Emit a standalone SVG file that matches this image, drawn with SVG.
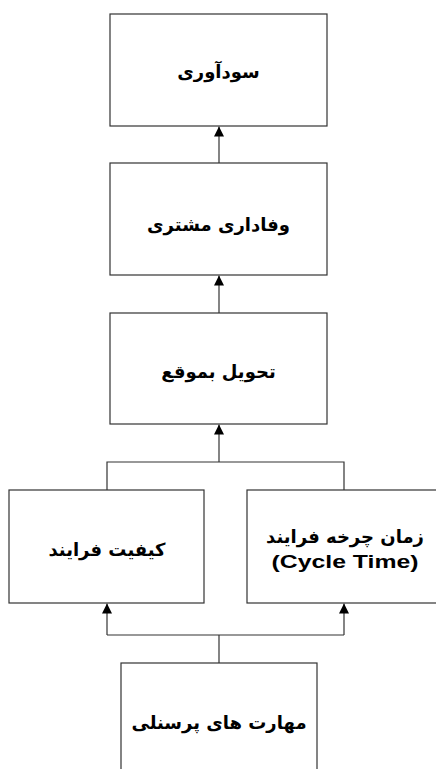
<svg xmlns="http://www.w3.org/2000/svg" width="436" height="769" viewBox="0 0 436 769">
<style>
.box{fill:#fff;stroke:#333;stroke-width:1.2}
.lbl{font-family:"DejaVu Sans",sans-serif;font-size:18px;font-weight:bold;fill:#000;text-anchor:middle}
.en{font-family:"Liberation Sans",Arial,sans-serif;font-size:19px;font-weight:bold;fill:#000;text-anchor:middle}
.ln{fill:none;stroke:#333;stroke-width:1.2}
</style>
<defs>
<marker id="ah" viewBox="0 0 10 11" refX="10" refY="5" markerWidth="10" markerHeight="11" markerUnits="userSpaceOnUse" orient="auto">
<path d="M0,0 L10,5 L0,10 Z" fill="#000"/>
</marker>
</defs>
<rect width="436" height="769" fill="#fff"/>
<g id="connectors">
<line class="ln" x1="219" y1="163" x2="219" y2="126.5" marker-end="url(#ah)"/>
<line class="ln" x1="219" y1="313" x2="219" y2="275.5" marker-end="url(#ah)"/>
<polyline class="ln" points="107,490 107,462 344,462 344,490"/>
<line class="ln" x1="219" y1="462" x2="219" y2="424.5" marker-end="url(#ah)"/>
<polyline class="ln" points="107,635 344,635"/>
<line class="ln" x1="107" y1="635" x2="107" y2="603.5" marker-end="url(#ah)"/>
<line class="ln" x1="344" y1="635" x2="344" y2="603.5" marker-end="url(#ah)"/>
<line class="ln" x1="219" y1="663" x2="219" y2="635"/>
</g>
<g id="n-profit">
<rect class="box" x="110" y="14" width="217" height="112"/>
<text class="lbl" x="218.5" y="78">سودآوری</text>
</g>
<g id="n-loyalty">
<rect class="box" x="110" y="163" width="217" height="112"/>
<text class="lbl" x="218.5" y="231">وفاداری مشتری</text>
</g>
<g id="n-delivery">
<rect class="box" x="110" y="313" width="217" height="111"/>
<text class="lbl" x="218.5" y="378">تحویل بموقع</text>
</g>
<g id="n-quality">
<rect class="box" x="9" y="490" width="195" height="113"/>
<text class="lbl" x="107" y="556">کیفیت فرایند</text>
</g>
<g id="n-cycle">
<rect class="box" x="247" y="490" width="200" height="113"/>
<text class="lbl" x="345" y="543">زمان چرخه فرایند</text>
<text class="en" x="345" y="568" textLength="147" lengthAdjust="spacingAndGlyphs">(Cycle Time)</text>
</g>
<g id="n-skills">
<rect class="box" x="121" y="663" width="196" height="120"/>
<text class="lbl" x="219" y="729">مهارت های پرسنلی</text>
</g>
</svg>
